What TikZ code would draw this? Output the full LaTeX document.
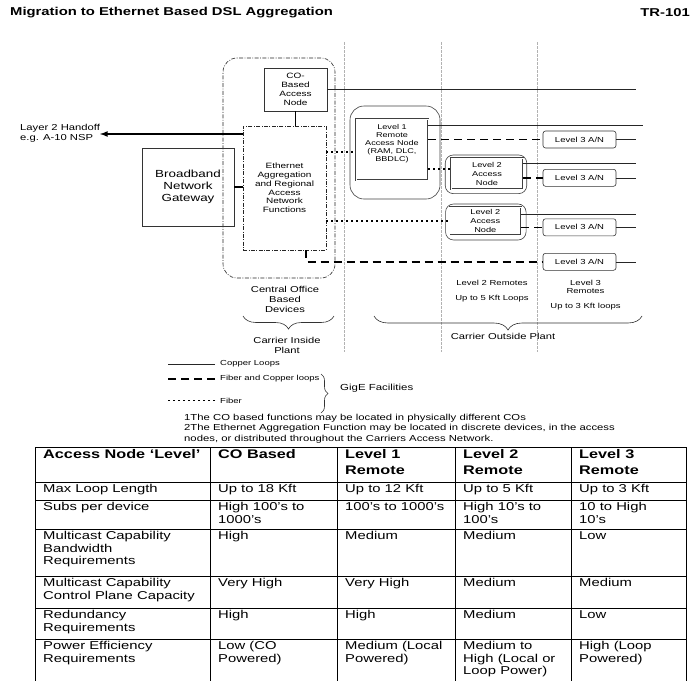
\documentclass[tikz,border=0pt]{standalone}
\usepackage{fontspec}
\setmainfont{Liberation Sans}[FakeStretch=1.3]
\usetikzlibrary{
	calc,
	decorations,
	decorations.pathreplacing}

\begin{document}
\begin{tikzpicture}[x=1pt,y=-1pt,every text node part/.style={align=center}]
		\tikzstyle{box}=[draw=black!80,line width=0.7pt,inner sep=0pt]
		\tikzstyle{remote}=[draw=black!75,line width=0.6pt,rounded corners=8pt,inner sep=0pt]
		\tikzstyle{anbox}=[draw=black!75,double=white,double distance=0.6pt,line width=0.4pt,inner sep=0pt]
		\tikzstyle{dashdot}=[draw=black!85,line width=0.6pt,dash pattern=on 4pt off 1.5pt on 0.8pt off 1.5pt]
		\tikzstyle{l3box}=[draw=black!80,line width=0.6pt,rounded corners=2.5pt,minimum width=73pt,
							minimum height=17pt,inner sep=0pt,font=\fontsize{7.3}{8.5}\selectfont]
		\tikzstyle{copper}=[black!85,line width=0.5pt]
		\tikzstyle{fibcu}=[black,line width=1.6pt,dash pattern=on 8pt off 5pt]
		\tikzstyle{fiber}=[black,line width=1.6pt,dash pattern=on 1.6pt off 3.4pt]
		\tikzstyle{link}=[black,line width=1.6pt]
		\tikzstyle{zone}=[gray!60,line width=0.5pt,dash pattern=on 3pt off 1pt]
		\tikzstyle{brc}=[black!80,line width=0.6pt,decorate,decoration={brace}]
		\tikzstyle{leftside}=[every text node part/.style={align=left}]
		\tikzstyle{lbl}=[inner sep=0pt,font=\fontsize{8.6}{10}\selectfont]
		\tikzstyle{zonelbl}=[inner sep=0pt,font=\fontsize{7.3}{8.3}\selectfont]
		\tikzstyle{legend}=[anchor=west,inner sep=0pt,font=\fontsize{7.3}{8}\selectfont]
		\tikzstyle{note}=[anchor=west,inner sep=0pt,font=\fontsize{8.7}{10}\selectfont]
		\tikzstyle{cell}=[anchor=north west,inner sep=0pt,leftside,font=\fontsize{11.4}{12.5}\selectfont]
		\tikzstyle{headcell}=[cell,font=\bfseries\fontsize{12.5}{16}\selectfont]

		\useasboundingbox (0,0) rectangle (700,680);
		\clip (0,0) rectangle (700,680);

		% title
		\node[anchor=west,inner sep=0pt,font=\bfseries\fontsize{11.4}{13}\selectfont] (title) at (10,13)
			{Migration to Ethernet Based DSL Aggregation};
		\node[anchor=east,inner sep=0pt,font=\bfseries\fontsize{11.4}{13}\selectfont] (tr) at (690,13) {TR-101};

		% plant boundaries
		\foreach \x in {344,441,537}
			\draw[zone] (\x,42) -- (\x,352);

		% central office
		\node[dashdot,rounded corners=14pt,minimum width=112pt,minimum height=220pt] (co) at (279,168) {};
		\node[box,minimum width=63pt,minimum height=43pt,font=\fontsize{7.7}{8.8}\selectfont] (cobox)
			at (295.5,89.5) {CO-\\Based\\Access\\Node};
		\node[dashdot,inner sep=0pt,minimum width=83pt,minimum height=124pt,font=\fontsize{7.7}{8.8}\selectfont] (eth)
			at (284.5,188) {Ethernet\\Aggregation\\and Regional\\Access\\Network\\Functions};
		\node[box,minimum width=92pt,minimum height=78pt,font=\fontsize{10.3}{12}\selectfont] (bng)
			at (188,187) {Broadband\\Network\\Gateway};
		\node[anchor=north west,inner sep=0pt,leftside,font=\fontsize{8.65}{10}\selectfont] (handoff)
			at (20,124) {Layer 2 Handoff\\e.g. A-10 NSP};

		% level 1
		\node[remote,rounded corners=14pt,minimum width=90pt,minimum height=93pt] (l1out) at (395,152.5) {};
		\node[anbox,minimum width=72pt,minimum height=61pt] (l1) at (392,149.5) {};
		\node[anchor=north,inner sep=0pt,font=\fontsize{7}{7.9}\selectfont] (l1txt) at (392,124.5)
			{Level 1\\Remote\\Access Node\\(RAM, DLC,\\BBDLC)};

		% level 2
		\foreach \name/\x/\y/\w/\h in {l2aout/486/174.3/81.5/38.6, l2bout/485.8/222/80.5/36}
			\node[remote,minimum width=\w pt,minimum height=\h pt] (\name) at (\x,\y) {};
		\node[anbox,minimum width=72pt,minimum height=31pt,font=\fontsize{7.1}{9}\selectfont] (l2a)
			at (487,173.5) {Level 2\\Access\\Node};
		\node[anbox,minimum width=71.4pt,minimum height=28pt,font=\fontsize{7.1}{9}\selectfont] (l2b)
			at (485.3,221) {Level 2\\Access\\Node};

		% level 3
		\foreach \name/\y in {l3a/139.5, l3b/177.8, l3c/227.3, l3d/261.8}
			\node[l3box] (\name) at (579.5,\y) {Level 3 A/N};

		% copper loops
		\coordinate (rimA) at (636,89);
		\coordinate (rimB) at (643,125);
		\coordinate (rimC) at (636,163);
		\coordinate (rimD) at (636,214);
		\draw[copper] (cobox.east |- rimA) -- (rimA);
		\draw[copper] (l1.east |- rimB) -- (rimB);
		\draw[copper] (l2a.east |- rimC) -- (rimC);
		\draw[copper] (l2b.east |- rimD) -- (rimD);
		\foreach \name in {l3a,l3b,l3c,l3d}
			\draw[copper] (\name.east) -- (\name.east -| rimA);

		% fiber and copper
		\draw[fibcu] (l1.east |- l3a) -- (l3a.west);
		\draw[fibcu] (l2a.east |- l3b) -- (l3b.west);
		\draw[fibcu] (l2b.east |- l3c) -- (l3c.west);
		\draw[fibcu] ([xshift=21.5pt]eth.south) |- (l3d.west);

		% fiber
		\draw[fiber] ([yshift=-2.5pt]eth.east |- l1.west) -- ([yshift=-2.5pt]l1.west);
		\draw[fiber] ([yshift=4.5pt]l1.east |- l2a.west) -- ([yshift=4.5pt]l2a.west);
		\draw[fiber] (eth.east |- l2b.west) -- (l2b.west);

		% handoff and gateway
		\coordinate (ho) at (100,134);
		\draw[link] (cobox.south) -- (cobox.south |- eth.north);
		\draw[link] (bng.east) -- (bng.east -| eth.west);
		\draw[link,-latex] (eth.west |- ho) -- (ho);

		% zone labels
		\node[lbl] (codev) at (285,299) {Central Office\\Based\\Devices};
		\node[zonelbl] (l2rem) at (492,282.7) {Level 2 Remotes};
		\node[zonelbl] (l2loop) at (492,299) {Up to 5 Kft Loops};
		\node[zonelbl] (l3rem) at (585.5,287) {Level 3\\Remotes};
		\node[zonelbl] (l3loop) at (585.5,306.7) {Up to 3 Kft loops};
		\draw[brc,decoration={amplitude=13pt,mirror}] (243,316) -- (334,316);
		\draw[brc,decoration={amplitude=14pt,mirror}] (374,316) -- (642,316);
		\node[lbl] (inside) at (287,345.7) {Carrier Inside\\Plant};
		\node[lbl] (outside) at (503,336) {Carrier Outside Plant};

		% legend
		\node[legend] (lcu) at (220,364) {Copper Loops};
		\node[legend] (lfc) at (220,379) {Fiber and Copper loops};
		\node[legend] (lfi) at (220,400.6) {Fiber};
		\draw[copper] ([xshift=-5pt]lcu.west) -- ++(-47pt,0);
		\draw[fibcu] ([xshift=-5pt]lfc.west) -- ++(-47pt,0);
		\draw[fiber] ([xshift=-5pt]lfi.west) -- ++(-47pt,0);
		\draw[brc,decoration={amplitude=7pt}] (321,374) -- (321,413);
		\node[anchor=west,inner sep=0pt,font=\fontsize{8.8}{10}\selectfont] (gige) at (340,388) {GigE Facilities};

		% notes
		\node[note] (fn1) at (184,418) {1The CO based functions may be located in physically different COs};
		\node[note] (fn2) at (184,428.5)
			{2The Ethernet Aggregation Function may be located in discrete devices, in the access};
		\node[note] (fn3) at (184,439) {nodes, or distributed throughout the Carriers Access Network.};

		% table grid
		\draw[line width=0.8pt] (35,447) rectangle (686,700);
		\foreach \y in {482,500,529,576,608,639}
			\draw[line width=0.6pt] (35,\y) -- (686,\y);
		\foreach \x in {210,337,455,571}
			\draw[line width=0.6pt] (\x,447) -- (\x,700);

		% table header
		\foreach \name/\x/\txt in {ha/43/{Access Node ‘Level’}, hb/218/{CO Based}, hc/345/{Level 1\\Remote},
				hd/463/{Level 2\\Remote}, he/579/{Level 3\\Remote}}
			\node[headcell] (\name) at (\x,449) {\txt};

		% table rows
		\foreach \n/\y/\a/\b/\c/\d/\e in {
				1/484.5/{Max Loop Length}/{Up to 18 Kft}/{Up to 12 Kft}/{Up to 5 Kft}/{Up to 3 Kft},
				2/502.5/{Subs per device}/{High 100’s to\\1000’s}/{100’s to 1000’s}/{High 10’s to\\100’s}/{10 to High\\10’s},
				3/531.5/{Multicast Capability\\Bandwidth\\Requirements}/{High}/{Medium}/{Medium}/{Low},
				4/578.5/{Multicast Capability\\Control Plane Capacity}/{Very High}/{Very High}/{Medium}/{Medium},
				5/610.5/{Redundancy\\Requirements}/{High}/{High}/{Medium}/{Low},
				6/641.5/{Power Efficiency\\Requirements}/{Low (CO\\Powered)}/{Medium (Local\\Powered)}/{Medium to\\High (Local or\\Loop Power)}/{High (Loop\\Powered)}}
			{
			\node[cell] (r\n a) at (43,\y) {\a};
			\node[cell] (r\n b) at (218,\y) {\b};
			\node[cell] (r\n c) at (345,\y) {\c};
			\node[cell] (r\n d) at (463,\y) {\d};
			\node[cell] (r\n e) at (579,\y) {\e};
			}
	\end{tikzpicture}
\end{document}
